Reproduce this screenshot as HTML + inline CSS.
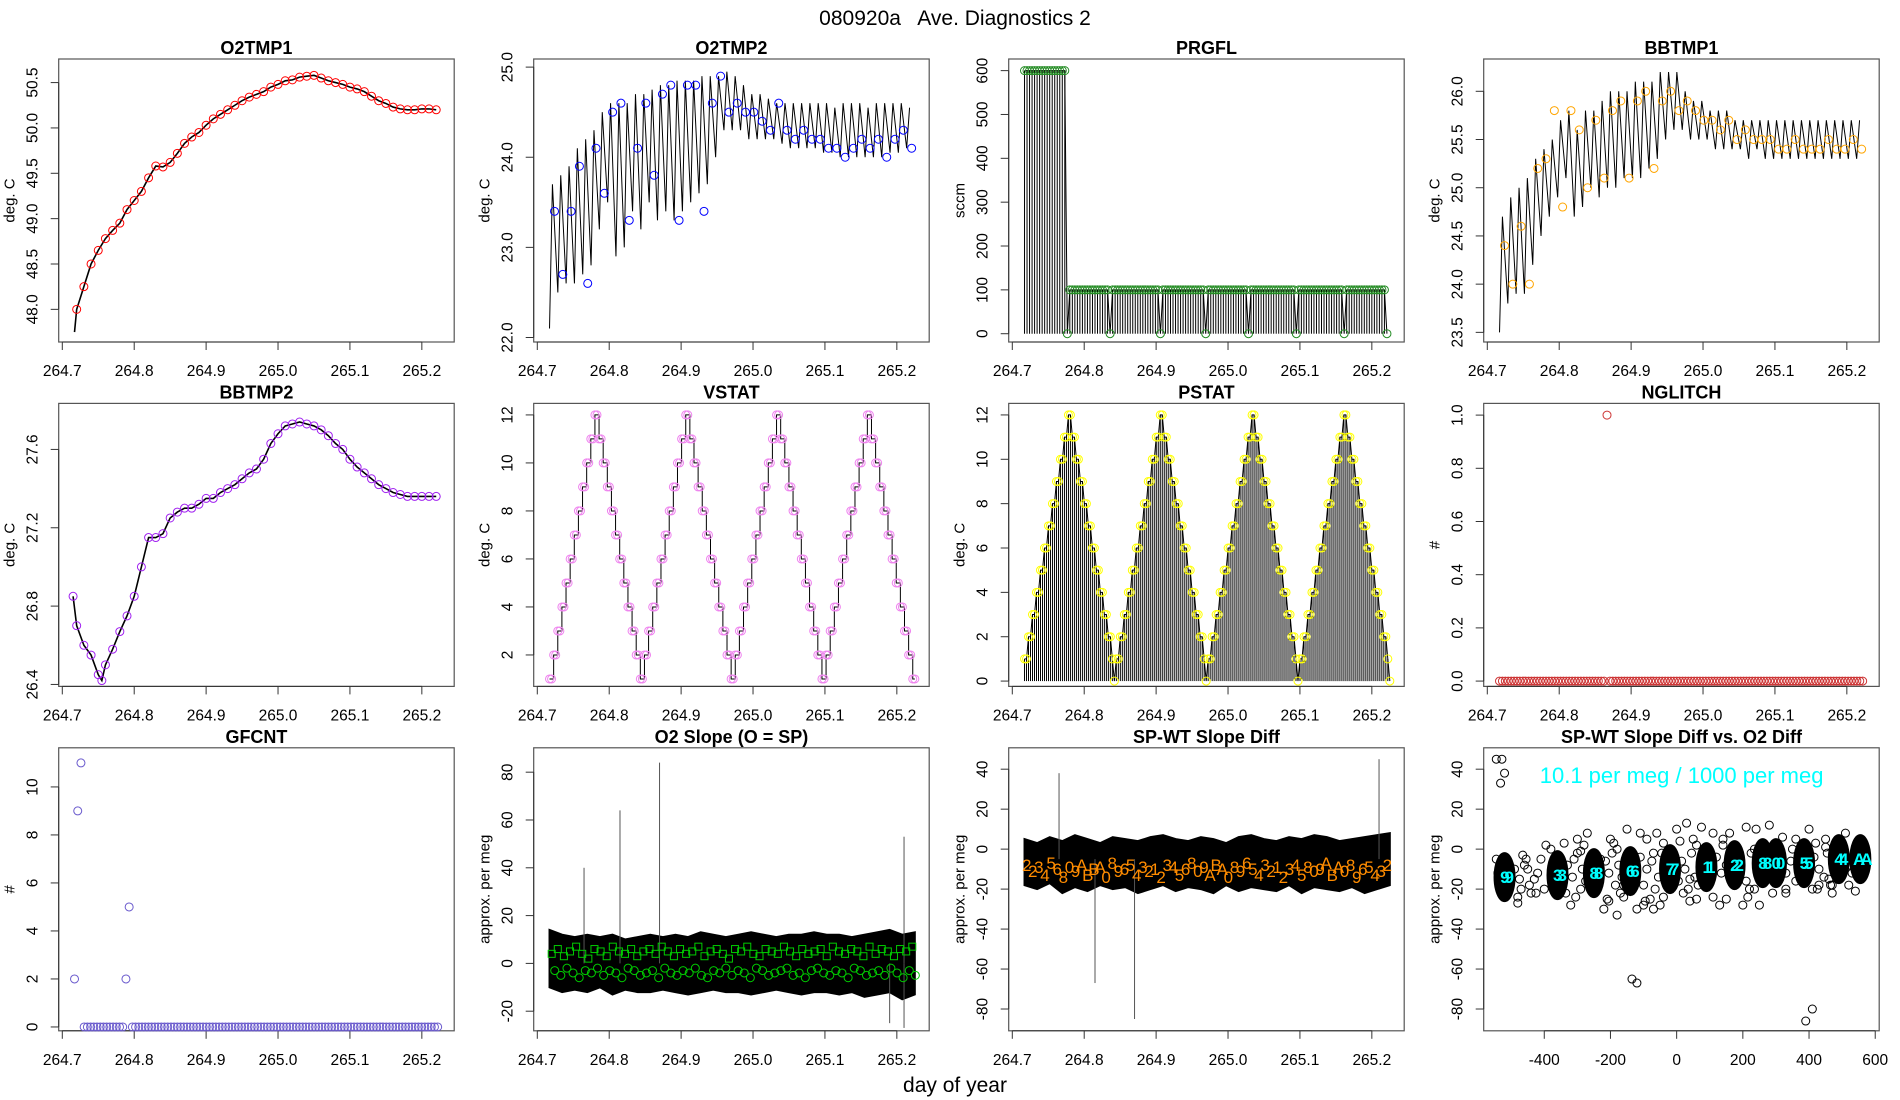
<!DOCTYPE html>
<html><head><meta charset="utf-8"><title>080920a Ave. Diagnostics 2</title>
<style>
html,body{margin:0;padding:0;background:#fff;}
svg{display:block;font-family:"Liberation Sans",Arial,sans-serif;}
</style></head>
<body>
<svg id="chart" width="1900" height="1100" viewBox="0 0 1900 1100" xmlns="http://www.w3.org/2000/svg">
<rect x="0" y="0" width="1900" height="1100" fill="#fff"/>
<text x="955" y="25" font-size="21" text-anchor="middle" style="white-space:pre" xml:space="preserve">080920a   Ave. Diagnostics 2</text>
<text x="955" y="1092" font-size="21" text-anchor="middle">day of year</text>
</svg>
<script>
// ---------- data ----------
const timeTicks = [264.7, 264.8, 264.9, 265.0, 265.1, 265.2];
const o2tmp1Times = [264.72,264.73,264.74,264.75,264.76,264.77,264.78,264.79,264.80,264.81,264.82,264.83,264.84,264.85,264.86,264.87,264.88,264.89,264.90,264.91,264.92,264.93,264.94,264.95,264.96,264.97,264.98,264.99,265.00,265.01,265.02,265.03,265.04,265.05,265.06,265.07,265.08,265.09,265.10,265.11,265.12,265.13,265.14,265.15,265.16,265.17,265.18,265.19,265.20,265.21,265.22];
const o2tmp1Vals = [48.0,48.25,48.5,48.65,48.78,48.87,48.95,49.1,49.2,49.3,49.45,49.58,49.57,49.62,49.72,49.83,49.9,49.95,50.03,50.1,50.15,50.2,50.25,50.3,50.34,50.37,50.4,50.45,50.48,50.52,50.53,50.56,50.57,50.58,50.55,50.52,50.5,50.48,50.45,50.43,50.4,50.35,50.3,50.27,50.23,50.21,50.2,50.2,50.21,50.21,50.2];
const o2tmp1Ticks = [48.0,48.5,49.0,49.5,50.0,50.5];

const sawStart = 264.717, sawStep = 0.01155;
const o2tmp2Hi = [23.7,23.8,23.9,24.1,24.2,24.3,24.5,24.6,24.6,24.6,24.7,24.7,24.75,24.8,24.8,24.85,24.85,24.85,24.9,24.9,24.9,24.95,24.9,24.8,24.7,24.7,24.65,24.6,24.6,24.6,24.6,24.6,24.6,24.6,24.55,24.6,24.6,24.6,24.55,24.6,24.6,24.6,24.6,24.55];
const o2tmp2Lo = [22.1,22.5,22.6,22.6,22.7,22.8,23.2,23.5,22.9,23.0,23.4,23.2,23.5,23.3,23.4,23.3,23.4,23.5,23.6,23.7,24.0,24.3,24.3,24.3,24.2,24.2,24.2,24.2,24.15,24.1,24.1,24.1,24.1,24.05,24.05,24.0,24.0,24.0,24.0,24.0,24.0,24.05,24.05,24.1];
const o2tmp2Pts = [23.4,22.7,23.4,23.9,22.6,24.1,23.6,24.5,24.6,23.3,24.1,24.6,23.8,24.7,24.8,23.3,24.8,24.8,23.4,24.6,24.9,24.5,24.6,24.5,24.5,24.4,24.3,24.6,24.3,24.2,24.3,24.2,24.2,24.1,24.1,24.0,24.1,24.2,24.1,24.2,24.0,24.2,24.3,24.1];
const o2tmp2Ticks = [22.0,23.0,24.0,25.0];

const prgflStart = 264.717, prgflStep = 0.0035;
const prgflVals = [600,600,600,600,600,600,600,600,600,600,600,600,600,600,600,600,600,
0,
100,100,100,100,100,100,100,100,100,100,100,100,100,100,100,100,
0,
100,100,100,100,100,100,100,100,100,100,100,100,100,100,100,100,100,100,100,
0,
100,100,100,100,100,100,100,100,100,100,100,100,100,100,100,100,100,
0,
100,100,100,100,100,100,100,100,100,100,100,100,100,100,100,100,
0,
100,100,100,100,100,100,100,100,100,100,100,100,100,100,100,100,100,100,
0,
100,100,100,100,100,100,100,100,100,100,100,100,100,100,100,100,100,100,
0,
100,100,100,100,100,100,100,100,100,100,100,100,100,100,100,100,
0];
const prgflTicks = [0,100,200,300,400,500,600];

const bb1Hi = [24.7,24.9,25.0,25.1,25.3,25.4,25.5,25.7,25.8,25.6,25.8,25.8,25.9,26.0,26.0,26.0,26.1,26.1,26.1,26.2,26.2,26.2,26.0,25.9,25.9,25.8,25.8,25.8,25.7,25.7,25.7,25.7,25.7,25.7,25.7,25.7,25.7,25.7,25.7,25.7,25.7,25.7,25.7,25.7];
const bb1Lo = [23.5,23.8,23.9,23.9,24.2,24.5,24.7,24.9,25.1,24.7,24.8,25.0,24.9,25.0,25.0,25.1,25.1,25.1,25.2,25.3,25.5,25.6,25.6,25.5,25.5,25.5,25.4,25.4,25.4,25.4,25.3,25.4,25.3,25.3,25.3,25.3,25.3,25.3,25.3,25.3,25.3,25.3,25.3,25.3];
const bb1Pts = [24.4,24.0,24.6,24.0,25.2,25.3,25.8,24.8,25.8,25.6,25.0,25.7,25.1,25.8,25.9,25.1,25.9,26.0,25.2,25.9,26.0,25.8,25.9,25.8,25.7,25.7,25.6,25.7,25.5,25.6,25.5,25.5,25.5,25.4,25.4,25.5,25.4,25.4,25.4,25.5,25.4,25.4,25.5,25.4];
const bb1Ticks = [23.5,24.0,24.5,25.0,25.5,26.0];

const bb2Times = [264.715,264.72,264.73,264.74,264.75,264.755,264.76,264.77,264.78,264.79,264.80,264.81,264.82,264.83,264.84,264.85,264.86,264.87,264.88,264.89,264.90,264.91,264.92,264.93,264.94,264.95,264.96,264.97,264.98,264.99,265.00,265.01,265.02,265.03,265.04,265.05,265.06,265.07,265.08,265.09,265.10,265.11,265.12,265.13,265.14,265.15,265.16,265.17,265.18,265.19,265.20,265.21,265.22];
const bb2Vals = [26.85,26.7,26.6,26.55,26.45,26.42,26.5,26.58,26.67,26.75,26.85,27.0,27.15,27.15,27.17,27.25,27.28,27.3,27.3,27.32,27.35,27.35,27.38,27.4,27.42,27.45,27.48,27.5,27.55,27.63,27.68,27.72,27.73,27.74,27.73,27.72,27.7,27.67,27.63,27.6,27.55,27.51,27.48,27.45,27.42,27.4,27.38,27.37,27.36,27.36,27.36,27.36,27.36];
const bb2Ticks = [26.4,26.8,27.2,27.6];

const stepStart = 264.717, stepEnd = 265.225;
const vstatVals = [1,1,2,2,3,3,4,4,5,5,6,6,7,7,8,8,9,9,10,10,11,11,12,12,11,11,10,10,9,9,8,8,7,7,6,6,5,5,4,4,3,3,2,2,
1,1,2,2,3,3,4,4,5,5,6,6,7,7,8,8,9,9,10,10,11,11,12,12,11,11,10,10,9,9,8,8,7,7,6,6,5,5,4,4,3,3,2,2,
1,1,2,2,3,3,4,4,5,5,6,6,7,7,8,8,9,9,10,10,11,11,12,12,11,11,10,10,9,9,8,8,7,7,6,6,5,5,4,4,3,3,2,2,
1,1,2,2,3,3,4,4,5,5,6,6,7,7,8,8,9,9,10,10,11,11,12,12,11,11,10,10,9,9,8,8,7,7,6,6,5,5,4,4,3,3,2,2,
1,1];
const vstatTicks = [2,4,6,8,10,12];
const pstatVals = [1,1,2,2,3,3,4,4,5,5,6,6,7,7,8,8,9,9,10,10,11,11,12,12,11,11,10,10,9,9,8,8,7,7,6,6,5,5,4,4,3,3,2,2,1,0,
1,1,2,2,3,3,4,4,5,5,6,6,7,7,8,8,9,9,10,10,11,11,12,12,11,11,10,10,9,9,8,8,7,7,6,6,5,5,4,4,3,3,2,2,1,0,
1,1,2,2,3,3,4,4,5,5,6,6,7,7,8,8,9,9,10,10,11,11,12,12,11,11,10,10,9,9,8,8,7,7,6,6,5,5,4,4,3,3,2,2,1,0,
1,1,2,2,3,3,4,4,5,5,6,6,7,7,8,8,9,9,10,10,11,11,12,12,11,11,10,10,9,9,8,8,7,7,6,6,5,5,4,4,3,3,2,2,1,0];
const pstatTicks = [0,2,4,6,8,10,12];

const countStart = 264.717, countEnd = 265.222;
const nglitchVals = [0,0,0,0,0,0,0,0,0,0,0,0,0,0,0,0,0,0,0,0,0,0,0,0,0,0,0,0,0,0,0,0,0,0,0,0,0,
1,
0,0,0,0,0,0,0,0,0,0,0,0,0,0,0,0,0,0,0,0,0,0,0,0,0,0,0,0,0,0,0,0,0,0,0,0,0,0,0,0,0,0,0,0,0,0,0,0,0,0,0,0,0,0,0,0,0,0,0,0,0,0,0,0,0,0,0,0,0,0,0,0,0,0,0,0,0,0,0,0,0,0,0,0,0,0,0,0];
const nglitchTicks = [0.0,0.2,0.4,0.6,0.8,1.0];
const gfcntVals = [2,9,11,0,0,0,0,0,0,0,0,0,0,0,0,0,2,5,
0,0,0,0,0,0,0,0,0,0,0,0,0,0,0,0,0,0,0,0,0,0,0,0,0,0,0,0,0,0,0,0,0,0,0,0,0,0,0,0,0,0,0,0,0,0,0,0,0,0,0,0,0,0,0,0,0,0,0,0,0,0,0,0,0,0,0,0,0,0,0,0,0,0,0,0,0,0,0,0,0,0,0,0,0,0,0,0,0,0,0,0,0,0,0,0];
const gfcntTicks = [0,2,4,6,8,10];

const bandStart = 264.717, bandEnd = 265.225;
const slopeHi = [14,12,11,12,11,12,10,11,12,11,12,11,13,12,11,12,13,12,11,12,12,13,12,12,11,12,13,14,12,13];
const slopeLo = [-10,-12,-11,-12,-10,-13,-11,-12,-12,-11,-12,-13,-12,-11,-12,-12,-13,-12,-11,-12,-13,-12,-12,-13,-12,-14,-13,-12,-15,-13];
const slopeSpikeTimes = [264.765,264.815,264.87,265.21,265.19,265.21];
const slopeSpikeVals = [40,64,84,53,-25,-27];
const markStart = 264.72, markStep = 0.0085;
const slopeSquares = [4,6,3,5,7,4,2,6,5,3,7,5,4,6,3,5,6,4,7,5,3,6,4,5,7,3,5,6,4,2,6,5,7,4,3,6,5,4,7,5,3,6,4,5,6,3,7,5,4,6,5,3,7,4,6,5,3,6,5,7];
const slopeCircles = [-3,-5,-2,-4,-6,-3,-4,-2,-5,-3,-4,-6,-2,-3,-5,-4,-3,-6,-2,-4,-5,-3,-4,-2,-5,-6,-3,-4,-2,-5,-3,-4,-6,-2,-3,-5,-4,-3,-2,-5,-4,-6,-3,-2,-4,-5,-3,-4,-6,-2,-3,-5,-4,-3,-5,-2,-4,-6,-3,-5];
const slopeTicks = [-20,0,20,40,60,80];

const diffHi = [5,3,6,4,7,5,3,6,5,4,6,7,5,4,6,5,3,6,7,5,4,6,5,7,6,4,5,6,7,8];
const diffLo = [-18,-20,-17,-22,-19,-21,-18,-20,-19,-22,-20,-18,-21,-19,-20,-22,-18,-21,-19,-20,-21,-18,-22,-19,-20,-21,-19,-22,-20,-18];
const diffSpikeTimes = [264.765,264.815,264.87,265.21];
const diffSpikeVals = [38,-67,-85,45];
const diffLabelVals = [-8,-11,-9,-13,-7,-10,-14,-9,-11,-8,-13,-10,-9,-14,-7,-11,-10,-8,-13,-9,-11,-10,-14,-8,-9,-13,-10,-7,-11,-9,-13,-8,-10,-14,-9,-11,-7,-10,-13,-8,-11,-9,-14,-10,-8,-13,-9,-11,-10,-7,-13,-9,-11,-8,-14,-10,-9,-13,-11,-8];
const diffLabels = ["2","2","3","4","5","6","8","0","9","A","B","B","A","0","8","9","6","5","4","3","2","1","2","3","4","5","6","8","0","9","A","B","A","0","8","9","6","5","4","3","2","1","2","3","4","5","8","0","9","A","B","A","0","8","9","6","5","4","3","2"];
const diffTicks = [-80,-60,-40,-20,0,20,40];

const scXTicks = [-400,-200,0,200,400,600];
const clusterX = [-520,-360,-250,-140,-20,90,175,260,300,385,490,555];
const clusterY = [-14,-13,-12,-11,-10,-9,-8,-7,-7,-7,-5,-5];
const clusterLabel = ["9","3","8","6","7","1","2","8","0","5","4","A"];
const scatterX = [-545,-540,-480,-470,-455,-450,-440,-430,-395,-380,-340,-320,-310,-300,-290,-280,-270,-230,-220,-210,-200,-190,-180,-170,-160,-150,-120,-110,-100,-90,-80,-70,-60,-50,-40,0,20,30,40,50,60,75,110,130,140,150,160,200,210,220,240,250,280,290,320,330,360,400,410,420,430,450,460,470,510,520,540,
-545,-528,-520,-532,-135,-120,390,410,
-490,-475,-460,-445,-420,-410,-400,-330,-315,-300,-285,-275,-215,-205,-195,-185,-175,-165,-110,-100,-90,-75,-65,-55,-45,-35,5,15,25,35,45,55,65,120,135,150,210,225,235,330,345,360,415,430,445,455,465,520,530,
-480,-465,-425,-335,-305,-290,-205,-180,-160,-95,-70,-40,10,40,60,110,140,215,235,330,350,425,450,470];
const scatterY = [-5,-12,-27,-20,-5,-10,-22,-15,2,0,3,-28,-5,5,-20,2,8,-5,-30,-25,5,3,-33,-22,-18,10,-30,8,-28,5,-25,-30,8,-28,3,10,-22,13,-15,5,-25,11,8,-28,5,-25,8,-28,11,-20,10,-28,12,-22,6,-20,5,10,-20,3,-18,5,-15,-22,8,-18,-21,
45,45,38,33,-65,-67,-86,-80,
-10,-15,-8,-18,-12,-5,-20,-8,-14,-2,-10,-16,-6,-12,-2,-18,-8,-14,-4,-18,-10,-6,-20,-14,-2,-12,-16,-6,-10,-20,-2,-14,-18,-4,-12,-8,-16,-2,-20,-12,-6,-16,-4,-10,-14,-2,-18,-8,-12,
-24,-3,-22,-22,-24,-1,-26,0,-24,-26,-2,-24,4,-26,2,-24,2,-24,0,-22,0,-20,1,-18];

// ---------- helpers ----------
const NS = 'http://www.w3.org/2000/svg';
const svg = document.getElementById('chart');
function mk(tag, parent, attrs, text) {
  const e = document.createElementNS(NS, tag);
  for (const k in attrs) e.setAttribute(k, attrs[k]);
  if (text !== undefined) e.textContent = text;
  parent.appendChild(e);
  return e;
}
const PW = 395.5, PH = 283;
const timeDomain = [264.695, 265.245];

function panel(col, row, key, title, xd, yd, xt, yt, ylab, xfmt, yfmt) {
  const L = 58.7 + 475 * col, T = 59 + 344.4 * row;
  const g = mk('g', svg, {});
  
  
  const X = v => L + (v - xd[0]) / (xd[1] - xd[0]) * PW;
  const Y = v => T + (yd[0] - v) / (yd[0] - yd[1]) * PH;
  const box = mk('rect', g, {x: L, y: T, width: PW, height: PH, fill: 'none', stroke: '#555', 'stroke-width': 1.2});
  
  
  const tt = mk('text', g, {x: L + PW / 2, y: T - 5, 'font-size': 18, 'font-weight': 'bold', 'text-anchor': 'middle'}, title);
  
  
  const xa = mk('g', g, {});
  
  
  const B = T + PH;
  const xl = mk('line', xa, {x1: X(xt[0]), x2: X(xt[xt.length - 1]), y1: B, y2: B, stroke: '#333'});
  
  
  xt.forEach(v => {
    const tk = mk('line', xa, {x1: X(v), x2: X(v), y1: B, y2: B + 8, stroke: '#333'});
    
    
    const lb = mk('text', xa, {x: X(v), y: B + 34, 'font-size': 15.5, 'text-anchor': 'middle'}, xfmt(v));
    
    
  });
  const ya = mk('g', g, {});
  
  
  const yl = mk('line', ya, {x1: L, x2: L, y1: Y(yt[0]), y2: Y(yt[yt.length - 1]), stroke: '#333'});
  
  
  yt.forEach(v => {
    const tk = mk('line', ya, {x1: L - 8, x2: L, y1: Y(v), y2: Y(v), stroke: '#333'});
    
    
    const lx = L - 21, ly = Y(v);
    const lb = mk('text', ya, {x: lx, y: ly, 'font-size': 15.5, 'text-anchor': 'middle', transform: `rotate(-90 ${lx} ${ly})`}, yfmt(v));
    
    
  });
  const tx = L - 44, ty = T + PH / 2;
  const yt2 = mk('text', ya, {x: tx, y: ty, 'font-size': 15, 'text-anchor': 'middle', transform: `rotate(-90 ${tx} ${ty})`}, ylab);
  
  
  const data = mk('g', g, {});
  
  
  return {g: data, X, Y, L, T, B};
}
const f1 = v => v.toFixed(1);
const f0 = v => String(v);
function polyline(p, pts, stroke, w, name) {
  const e = mk('polyline', p.g, {points: pts.map(q => p.X(q[0]).toFixed(2) + ',' + p.Y(q[1]).toFixed(2)).join(' '), fill: 'none', stroke: stroke, 'stroke-width': w});
  
  
}
function circle(p, t, v, color, name) {
  const c = mk('circle', p.g, {cx: p.X(t), cy: p.Y(v), r: 4, fill: 'none', stroke: color, 'stroke-width': 1});
  
  
}
function vline(p, t, v0, v1, color, name) {
  const l = mk('line', p.g, {x1: p.X(t), x2: p.X(t), y1: p.Y(v0), y2: p.Y(v1), stroke: color, 'stroke-width': 1});
  
  
}

// ---------- Panel 1: O2TMP1 ----------
{
  const p = panel(0, 0, 'o2tmp1', 'O2TMP1', timeDomain, [50.76, 47.64], timeTicks, o2tmp1Ticks, 'deg. C', f1, f1);
  polyline(p, [[264.717, 47.75]].concat(o2tmp1Times.map((t, i) => [t, o2tmp1Vals[i]])), '#000', 1.6, 'o2tmp1-line');
  o2tmp1Times.forEach((t, i) => circle(p, t, o2tmp1Vals[i], '#ff0000', 'o2tmp1-point'));
}
// ---------- sawtooth panels ----------
function saw(p, hi, lo, pts, color, key) {
  const line = [];
  hi.forEach((h, i) => { const t0 = sawStart + i * sawStep; line.push([t0, lo[i]]); line.push([t0 + sawStep * 0.35, h]); });
  polyline(p, line, '#000', 1, key + '-line');
  pts.forEach((v, i) => circle(p, sawStart + (i + 0.6) * sawStep, v, color, key + '-point'));
}
{
  const p = panel(1, 0, 'o2tmp2', 'O2TMP2', timeDomain, [25.09, 21.95], timeTicks, o2tmp2Ticks, 'deg. C', f1, f1);
  saw(p, o2tmp2Hi, o2tmp2Lo, o2tmp2Pts, '#0000ff', 'o2tmp2');
}
{
  const p = panel(3, 0, 'bbtmp1', 'BBTMP1', timeDomain, [26.335, 23.40], timeTicks, bb1Ticks, 'deg. C', f1, f1);
  saw(p, bb1Hi, bb1Lo, bb1Pts, '#ffa500', 'bbtmp1');
}
// ---------- Panel 3: PRGFL ----------
{
  const p = panel(2, 0, 'prgfl', 'PRGFL', timeDomain, [626.5, -18.9], timeTicks, prgflTicks, 'sccm', f1, f0);
  const top = [];
  prgflVals.forEach((v, i) => { const t = prgflStart + i * prgflStep; vline(p, t, 0, v, '#000', 'prgfl-bar'); top.push([t, v]); });
  polyline(p, top, '#000', 1, 'prgfl-line');
  prgflVals.forEach((v, i) => circle(p, prgflStart + i * prgflStep, v, '#228b22', 'prgfl-point'));
}
// ---------- Row 2 ----------
{
  const p = panel(0, 1, 'bbtmp2', 'BBTMP2', timeDomain, [27.835, 26.39], timeTicks, bb2Ticks, 'deg. C', f1, f1);
  polyline(p, bb2Times.map((t, i) => [t, bb2Vals[i]]), '#000', 1.6, 'bbtmp2-line');
  bb2Times.forEach((t, i) => circle(p, t, bb2Vals[i], '#a020f0', 'bbtmp2-point'));
}
{
  const p = panel(1, 1, 'vstat', 'VSTAT', timeDomain, [12.48, 0.69], timeTicks, vstatTicks, 'deg. C', f1, f0);
  const dt = (stepEnd - stepStart) / (vstatVals.length - 1);
  const pts = [];
  vstatVals.forEach((v, i) => { const t = stepStart + i * dt; if (i > 0) pts.push([t, vstatVals[i - 1]]); pts.push([t, v]); });
  polyline(p, pts, '#000', 1, 'vstat-line');
  vstatVals.forEach((v, i) => circle(p, stepStart + i * dt, v, '#ee82ee', 'vstat-point'));
}
{
  const p = panel(2, 1, 'pstat', 'PSTAT', timeDomain, [12.52, -0.24], timeTicks, pstatTicks, 'deg. C', f1, f0);
  const dt = (stepEnd - stepStart) / (pstatVals.length - 1);
  pstatVals.forEach((v, i) => vline(p, stepStart + i * dt, 0, v, '#000', 'pstat-bar'));
  polyline(p, pstatVals.map((v, i) => [stepStart + i * dt, v]), '#000', 1, 'pstat-line');
  pstatVals.forEach((v, i) => circle(p, stepStart + i * dt, v, '#ffff00', 'pstat-point'));
}
{
  const p = panel(3, 1, 'nglitch', 'NGLITCH', timeDomain, [1.044, -0.02], timeTicks, nglitchTicks, '#', f1, f1);
  const dt = (countEnd - countStart) / (nglitchVals.length - 1);
  nglitchVals.forEach((v, i) => circle(p, countStart + i * dt, v, '#cd3333', 'nglitch-point'));
}
// ---------- Row 3 ----------
{
  const p = panel(0, 2, 'gfcnt', 'GFCNT', timeDomain, [11.63, -0.16], timeTicks, gfcntTicks, '#', f1, f0);
  const dt = (countEnd - countStart) / (gfcntVals.length - 1);
  gfcntVals.forEach((v, i) => circle(p, countStart + i * dt, v, '#6a5acd', 'gfcnt-point'));
}
function band(p, hi, lo, key) {
  const dh = (bandEnd - bandStart) / (hi.length - 1), dl = (bandEnd - bandStart) / (lo.length - 1);
  const up = hi.map((v, i) => [bandStart + i * dh, v]);
  const dn = lo.map((v, i) => [bandStart + i * dl, v]).reverse();
  const pts = up.concat(dn).map(q => p.X(q[0]).toFixed(2) + ',' + p.Y(q[1]).toFixed(2)).join(' ');
  const e = mk('polygon', p.g, {points: pts, fill: '#000', stroke: '#000', 'stroke-width': 2, 'stroke-linejoin': 'miter'});
  
  
}
{
  const p = panel(1, 2, 'o2slope', 'O2 Slope (O = SP)', timeDomain, [90.2, -28.2], timeTicks, slopeTicks, 'approx. per meg', f1, f0);
  band(p, slopeHi, slopeLo, 'o2slope');
  slopeSpikeTimes.forEach((t, i) => vline(p, t, 0, slopeSpikeVals[i], '#555', 'o2slope-spike'));
  slopeSquares.forEach((v, i) => {
    const s = mk('rect', p.g, {x: p.X(markStart + i * markStep) - 3.5, y: p.Y(v) - 3.5, width: 7, height: 7, fill: 'none', stroke: '#00cc00', 'stroke-width': 1});
    
    
  });
  slopeCircles.forEach((v, i) => circle(p, markStart + (i + 0.5) * markStep, v, '#00cc00', 'o2slope-circle-point'));
}
{
  const p = panel(2, 2, 'spwt', 'SP-WT Slope Diff', timeDomain, [50.7, -90.9], timeTicks, diffTicks, 'approx. per meg', f1, f0);
  band(p, diffHi, diffLo, 'spwt');
  diffSpikeTimes.forEach((t, i) => vline(p, t, -5, diffSpikeVals[i], '#555', 'spwt-spike'));
  diffLabelVals.forEach((v, i) => {
    const tx = mk('text', p.g, {x: p.X(markStart + i * markStep), y: p.Y(v) + 6, 'font-size': 17, fill: '#ff8c00', 'text-anchor': 'middle'}, diffLabels[i]);
    
    
  });
}
{
  const p = panel(3, 2, 'scatter', 'SP-WT Slope Diff vs. O2 Diff', [-583, 612], [50.7, -90.9], scXTicks, diffTicks, 'approx. per meg', f0, f0);
  scatterX.forEach((x, i) => circle(p, x, scatterY[i], '#000', 'scatter-point'));
  clusterX.forEach((x, i) => {
    const e = mk('ellipse', p.g, {cx: p.X(x), cy: p.Y(clusterY[i]), rx: 10, ry: 24, fill: '#000', stroke: '#000', 'stroke-width': 2});
    
    
  });
  clusterX.forEach((x, i) => {
    const tx = mk('text', p.g, {x: p.X(x), y: p.Y(clusterY[i]) + 6, 'font-size': 17, 'font-weight': 'bold', fill: '#00ffff', 'text-anchor': 'middle', 'letter-spacing': '-5'}, clusterLabel[i] + clusterLabel[i]);
    
    
  });
  const ann = mk('text', p.g, {x: p.X(15), y: p.Y(37) + 8, 'font-size': 22, fill: '#00ffff', 'text-anchor': 'middle'}, '10.1 per meg / 1000 per meg');
  
  
}
</script>
</body></html>
